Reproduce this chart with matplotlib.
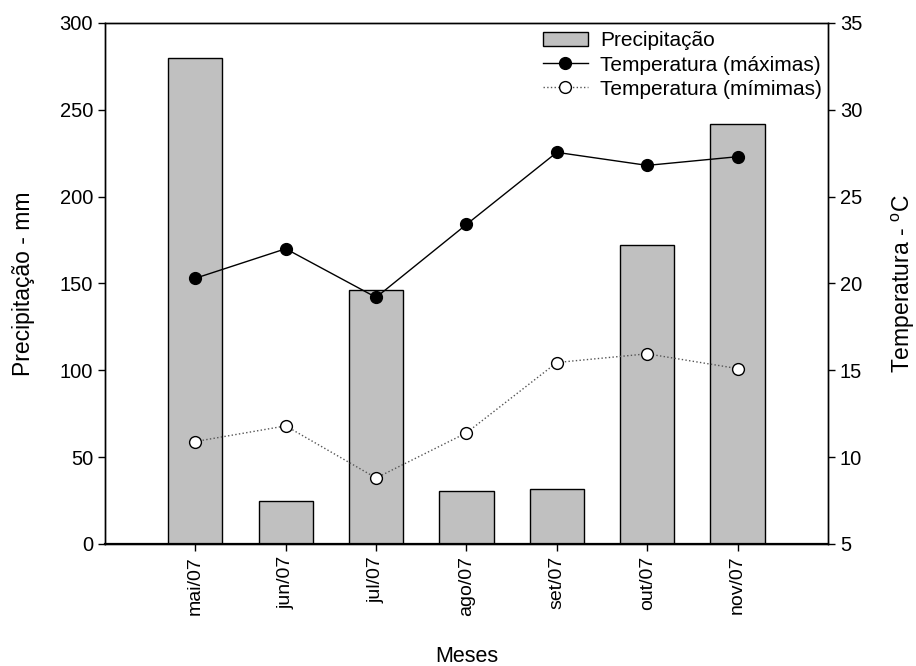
import matplotlib
matplotlib.use("Agg")
import matplotlib.pyplot as plt
import numpy as np

plt.rcParams['font.family'] = ['Liberation Sans', 'DejaVu Sans']
plt.rcParams['mathtext.fontset'] = 'custom'
plt.rcParams['mathtext.rm'] = 'Liberation Sans'

meses = ['mai/07', 'jun/07', 'jul/07', 'ago/07', 'set/07', 'out/07', 'nov/07']
precip = [280, 25, 146, 30.5, 31.5, 172, 242]
temp_max = [20.3, 22.0, 19.2, 23.4, 27.55, 26.8, 27.3]
temp_min = [10.9, 11.8, 8.8, 11.4, 15.45, 15.95, 15.1]

x = np.arange(len(meses))

fig = plt.figure(figsize=(9.16, 6.66), dpi=100)
ax = fig.add_axes([0.1146, 0.1832, 0.7893, 0.7823])
ax2 = ax.twinx()

bars = ax.bar(x, precip, width=0.6, color='#c0c0c0', edgecolor='black',
              linewidth=1.0, label='Precipitação')
l1, = ax2.plot(x, temp_max, '-o', color='black', linewidth=1.0,
               markersize=8.5, markerfacecolor='black', label='Temperatura (máximas)')
l2, = ax2.plot(x, temp_min, ':o', color='#555555', linewidth=1.0,
               markersize=8.5, markerfacecolor='white', markeredgecolor='black',
               label='Temperatura (mímimas)')

ax.set_xlim(-1, 7)
ax.set_ylim(0, 300)
ax2.set_ylim(5, 35)
ax.set_yticks(np.arange(0, 301, 50))
ax2.set_yticks(np.arange(5, 36, 5))
ax.set_xticks(x)
ax.set_xticklabels(meses, rotation=90)

for a in (ax, ax2):
    a.tick_params(direction='out', length=5, width=1, labelsize=14.5)
    for s in a.spines.values():
        s.set_linewidth(1.0)
ax.tick_params(axis='x', labelsize=14)
ax.spines['bottom'].set_linewidth(1.6)

ax.set_xlabel('Meses', fontsize=15.5)
ax.set_ylabel('Precipitação - mm', fontsize=16.5)
ax2.set_ylabel('Temperatura - $^{\\mathrm{o}}$C', fontsize=16.5)
ax.xaxis.set_label_coords(0.5, -0.196)
ax.yaxis.set_label_coords(-0.097, 0.5)
ax2.yaxis.set_label_coords(1.086, 0.5)

ax2.legend([bars, l1, l2], ['Precipitação', 'Temperatura (máximas)', 'Temperatura (mímimas)'],
           loc='upper right', bbox_to_anchor=(1.012, 1.012), frameon=False,
           fontsize=15, handlelength=2.15, labelspacing=0.25, handletextpad=0.6,
           borderaxespad=0.3)

fig.savefig('out.png', dpi=100)
